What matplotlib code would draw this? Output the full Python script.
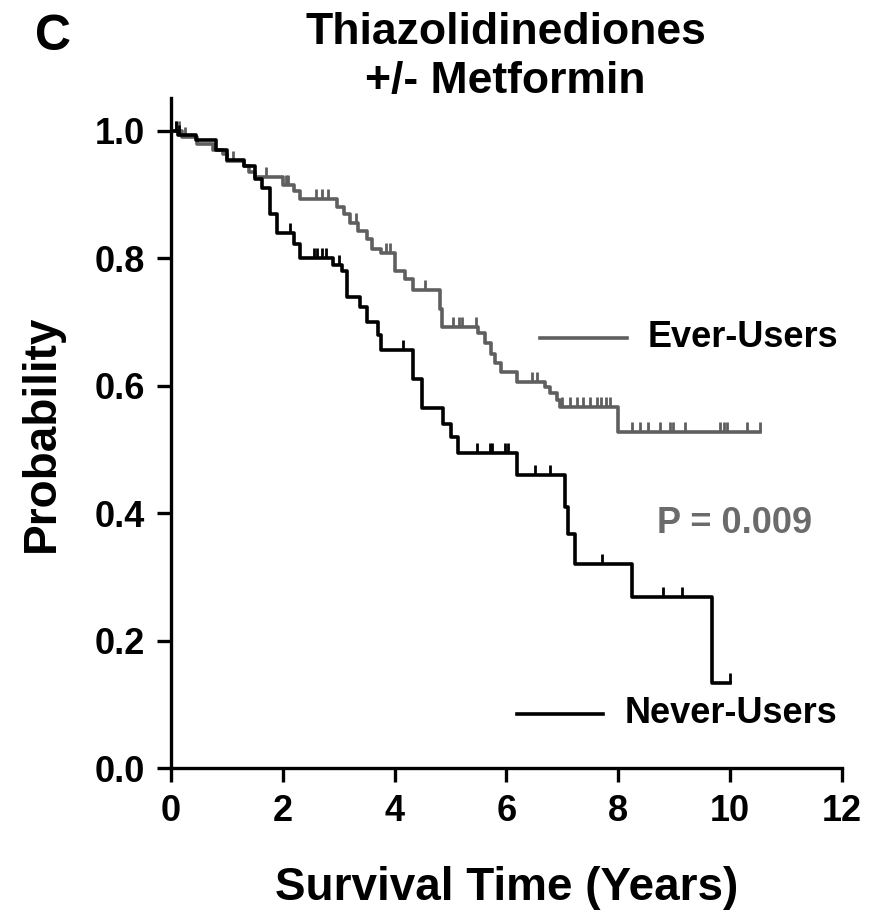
import numpy as np
import matplotlib
matplotlib.use('Agg')
import matplotlib.pyplot as plt

plt.rcParams['font.family'] = ['Liberation Sans', 'DejaVu Sans']
plt.rcParams['font.weight'] = 'bold'

# Kaplan-Meier steps: time of each drop (years) and survival after it
ever_t = [0, 0.2, 0.47, 0.75, 0.93, 1.0, 1.3, 1.4, 1.5, 2.0, 2.2, 2.3, 2.97,
          3.1, 3.2, 3.35, 3.5, 3.6, 3.75, 4.0, 4.19, 4.33, 4.81, 4.85, 5.5,
          5.62, 5.72, 5.8, 5.9, 6.19, 6.69, 6.78, 6.9, 6.95, 8.0]
ever_s = [1.0, 0.99, 0.98, 0.97, 0.963, 0.953, 0.945, 0.935, 0.928, 0.915,
          0.905, 0.893, 0.88, 0.87, 0.855, 0.843, 0.83, 0.815, 0.808, 0.78,
          0.768, 0.75, 0.72, 0.692, 0.683, 0.667, 0.65, 0.636, 0.622, 0.606,
          0.598, 0.588, 0.578, 0.567, 0.527]
ever_end = 10.54
ever_cens = [0.08, 0.15, 0.25, 1.1, 1.7, 2.05, 2.1, 2.6, 2.7, 2.8, 3.3, 3.85,
             3.92, 4.55, 5.05, 5.15, 5.2, 5.45, 6.45, 6.55, 7.0, 7.14, 7.26,
             7.37, 7.5, 7.62, 7.7, 7.78, 7.85, 8.25, 8.39, 8.53, 8.75, 8.93,
             8.98, 9.19, 9.82, 9.9, 9.95, 10.3, 10.54]

never_t = [0, 0.12, 0.45, 0.8, 1.0, 1.3, 1.5, 1.62, 1.77, 1.9, 2.2, 2.3, 2.9,
           3.05, 3.15, 3.38, 3.5, 3.7, 3.75, 4.33, 4.49, 4.87, 5.0, 5.13,
           6.19, 7.05, 7.1, 7.23, 8.25, 9.68]
never_s = [1.0, 0.993, 0.985, 0.97, 0.955, 0.945, 0.925, 0.91, 0.87, 0.84,
           0.823, 0.80, 0.79, 0.78, 0.74, 0.724, 0.70, 0.68, 0.656, 0.61,
           0.565, 0.54, 0.52, 0.495, 0.46, 0.41, 0.367, 0.32, 0.269, 0.133]
never_end = 10.0
never_cens = [0.08, 0.15, 2.13, 2.55, 2.62, 2.7, 2.78, 3.0, 4.15, 5.47, 5.7,
              5.75, 5.97, 6.02, 6.51, 6.78, 7.71, 8.8, 9.14, 10.0]

x_ticks = [0, 2, 4, 6, 8, 10, 12]
y_ticks = [0.0, 0.2, 0.4, 0.6, 0.8, 1.0]

gray = '#5f5f5f'


def km_curve(ax, t, s, t_end, cens, color):
    tt = np.append(t, t_end)
    ss = np.append(s, s[-1])
    ax.step(tt, ss, where='post', color=color, lw=2.6, zorder=3)
    # censored observations as small upward ticks
    idx = np.searchsorted(t, cens, side='right') - 1
    ax.plot(cens, np.array(s)[idx], ls='none', marker=2, ms=7, mew=2.0,
            color=color, zorder=3)


fig = plt.figure(figsize=(8.78, 9.22), dpi=100)
ax = fig.add_axes([0.1948, 0.167, 0.764, 0.727])

km_curve(ax, ever_t, ever_s, ever_end, ever_cens, gray)
km_curve(ax, never_t, never_s, never_end, never_cens, 'black')

ax.set_xlim(0, 12)
ax.set_ylim(0, 1.052)
ax.set_xticks(x_ticks)
ax.set_xticklabels([str(v) for v in x_ticks])
ax.set_yticks(y_ticks)
ax.set_yticklabels(['%.1f' % v for v in y_ticks])

for side in ['top', 'right']:
    ax.spines[side].set_visible(False)
for side in ['left', 'bottom']:
    ax.spines[side].set_linewidth(2.4)

ax.tick_params(axis='both', direction='out', length=10, width=2.4,
               labelsize=26)
ax.tick_params(axis='x', pad=9)
ax.tick_params(axis='y', pad=9)

ax.set_xlabel('Survival Time (Years)', fontsize=33, fontweight='bold',
              labelpad=26)
ax.set_ylabel('Probability', fontsize=33, fontweight='bold', labelpad=22)

# legend drawn by hand next to the curves
ax.plot([6.6, 8.16], [0.675, 0.675], color=gray, lw=2.6)
ax.text(8.53, 0.675, 'Ever-Users', fontsize=26, va='center', ha='left')
ax.plot([6.19, 7.73], [0.085, 0.085], color='black', lw=2.6)
ax.text(8.12, 0.085, 'Never-Users', fontsize=26, va='center', ha='left')

ax.text(10.09, 0.383, 'P = 0.009', fontsize=26, color='#6b6b6b',
        va='center', ha='center')

fig.text(0.576, 0.952, 'Thiazolidinediones', fontsize=32, ha='center',
         va='baseline')
fig.text(0.576, 0.899, '+/- Metformin', fontsize=32, ha='center',
         va='baseline')
fig.text(0.04, 0.946, 'C', fontsize=36, ha='left', va='baseline')

fig.savefig('out.png', dpi=100)
